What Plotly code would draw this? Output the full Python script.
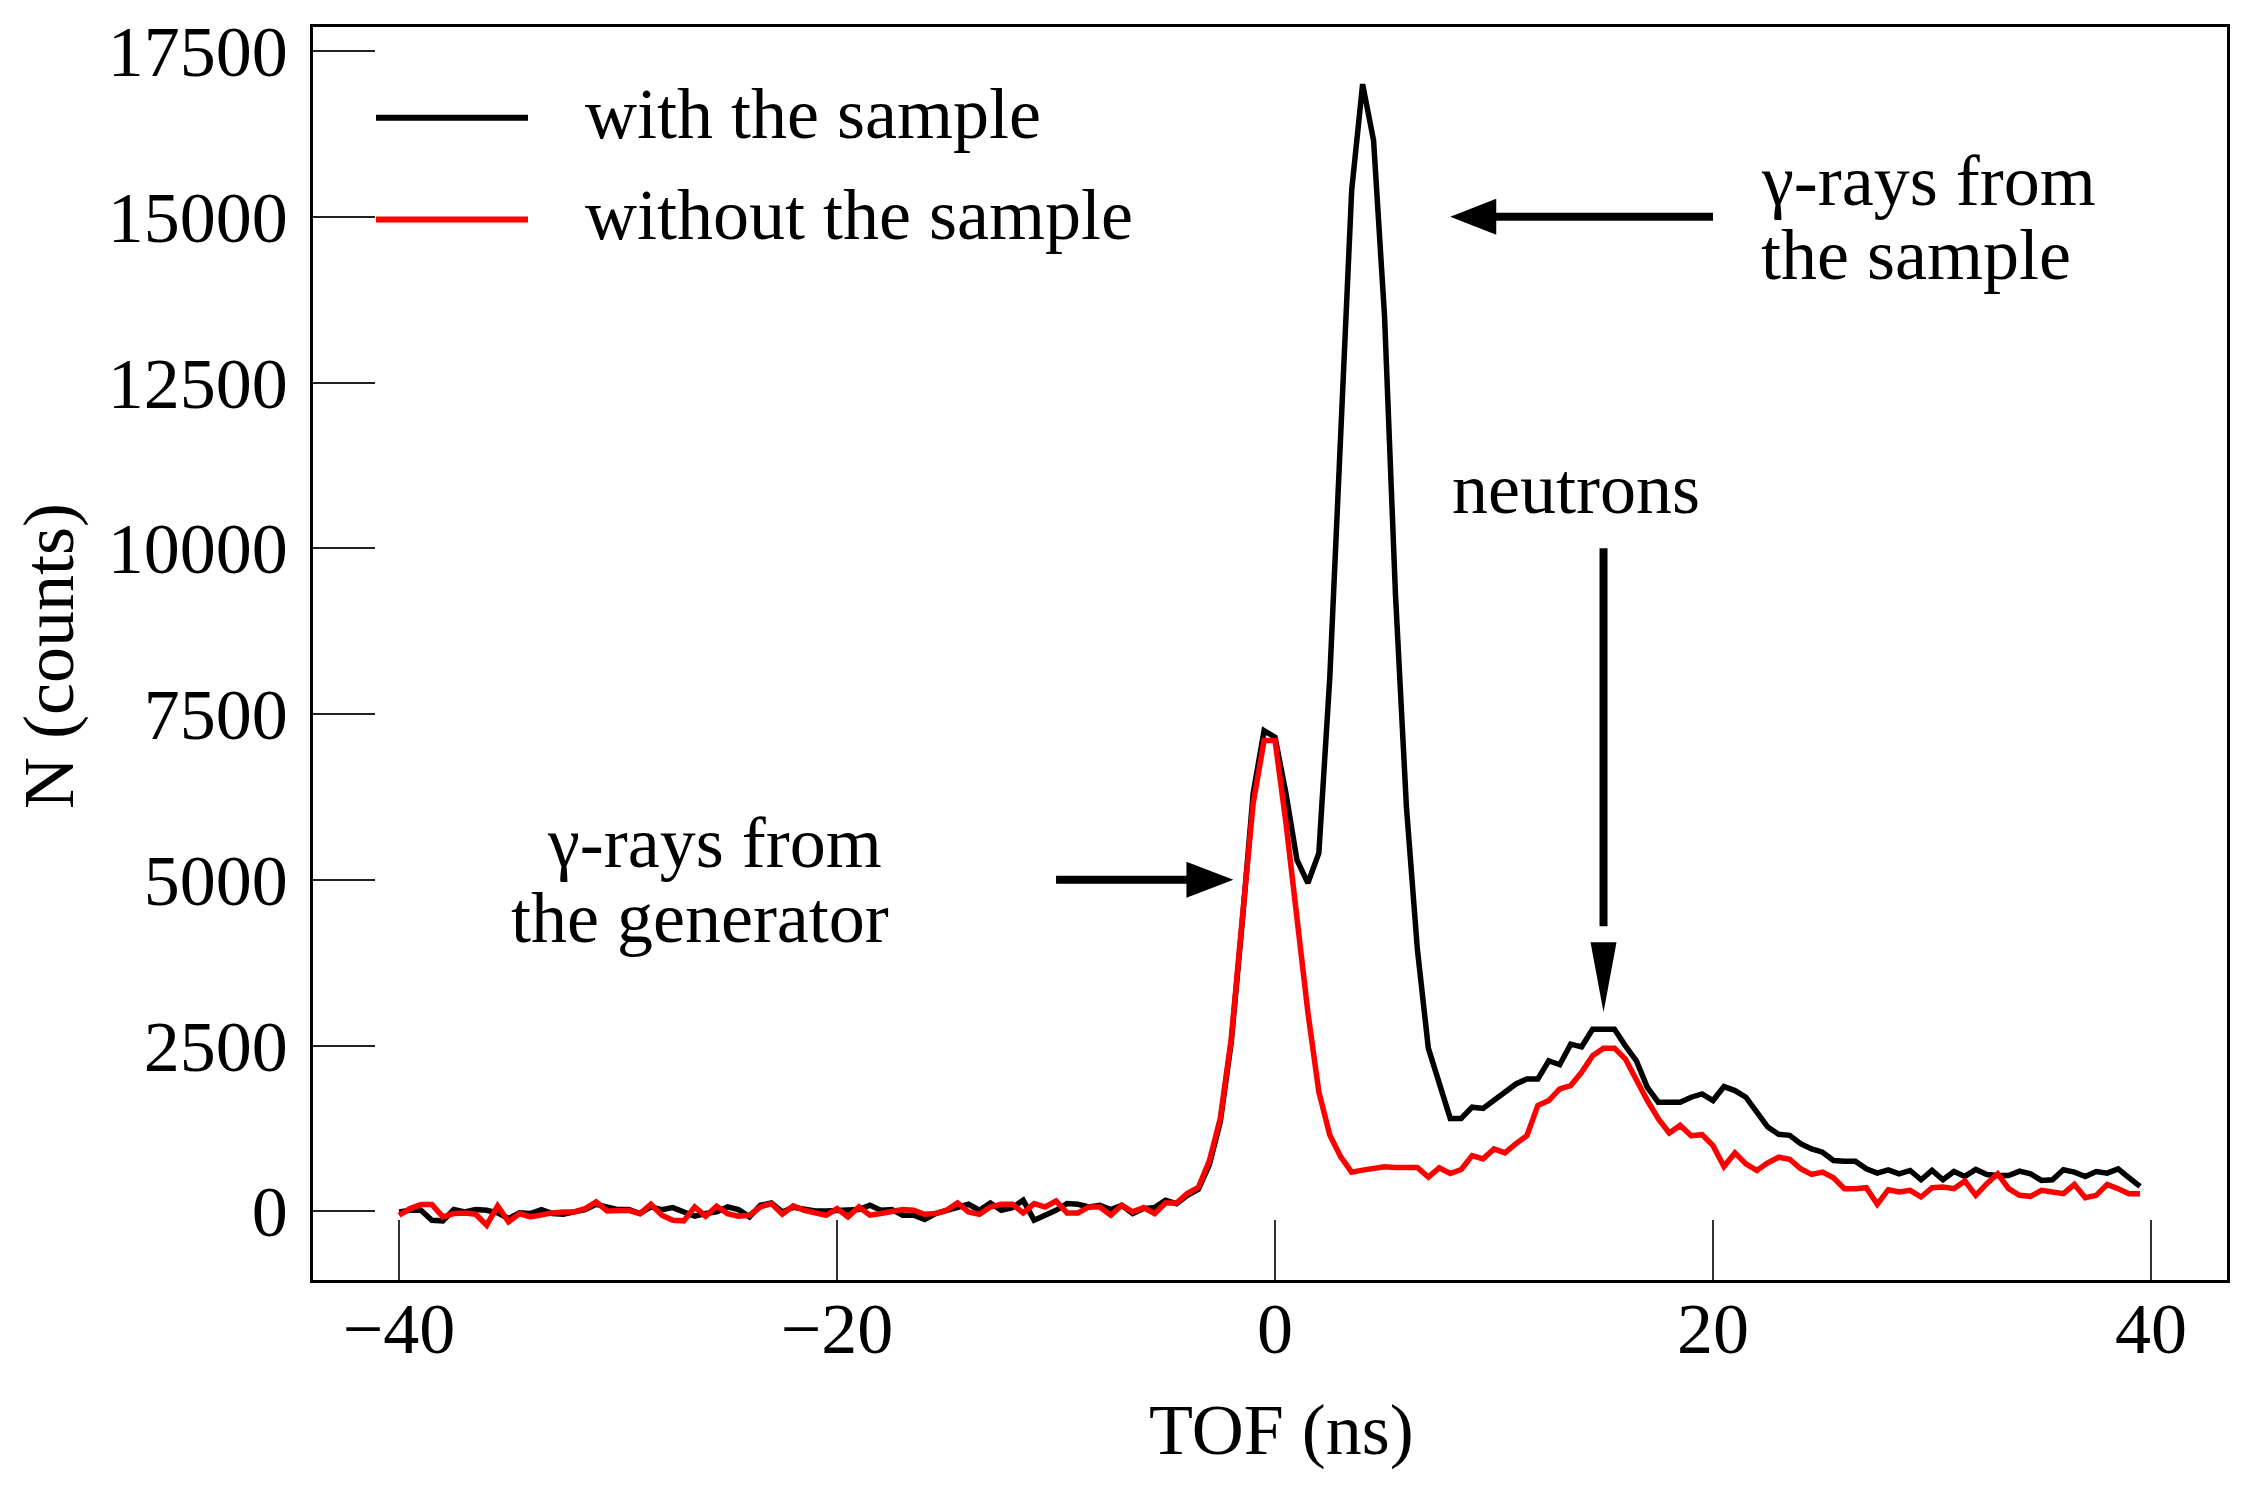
import plotly.graph_objects as go

# ---------------- data ----------------
tof_ns = [-40 + 0.5 * i for i in range(160)]   # bin centres, 0.5 ns bins

with_sample = [
    -10, 15, 15, -135, -145, 25, -10, 25, 15, -25,          # -40 .. -35.5
    -110, -25, -35, 25, -35, -45, -10, 25, 105, 65,         # -35 .. -30.5
    25, 25, -35, 65, 25, 55, -10, -75, -35, -10,            # -30 .. -25.5
    65, 25, -85, 90, 125, -10, 60, 25, 5, 5,                # -25 .. -20.5
    15, 15, 25, 90, 15, 25, -60, -60, -125, -35,            # -20 .. -15.5
    15, 65, 105, 15, 125, 15, 55, 165, -135, -60,           # -15 .. -10.5
    15, 115, 105, 65, 90, 25, 90, -35, 40, 55,              # -10 .. -5.5
    165, 115, 240, 330, 700, 1350, 2550, 4350, 6300, 7250,  # -5 .. -0.5
    7150, 6300, 5300, 4950, 5400, 8050, 11900, 15400, 17000, 16150,  # 0 .. 4.5
    13500, 9300, 6100, 3950, 2460, 1920, 1400, 1400, 1570, 1550,     # 5 .. 9.5
    1670, 1795, 1920, 1995, 1995, 2270, 2210, 2520, 2480, 2745,      # 10 .. 14.5
    2745, 2745, 2495, 2270, 1870, 1645, 1645, 1645, 1720, 1770,      # 15 .. 19.5
    1670, 1880, 1820, 1720, 1495, 1270, 1160, 1145, 1020, 940,       # 20 .. 24.5
    890, 765, 755, 755, 640, 575, 625, 565, 615, 475,                # 25 .. 29.5
    615, 475, 600, 525, 630, 555, 540, 540, 605, 565,                # 30 .. 34.5
    465, 475, 625, 590, 525, 600, 575, 640, 505, 375,                # 35 .. 39.5
]

without_sample = [
    -60, 40, 100, 100, -85, -35, -25, -45, -210, 80,        # -40 .. -35.5
    -160, -35, -85, -45, -25, -10, -10, 40, 140, 5,         # -35 .. -30.5
    15, 15, -35, 105, -60, -135, -145, 65, -75, 75,         # -30 .. -25.5
    -35, -75, -60, 65, 115, -45, 80, 15, -25, -60,          # -25 .. -20.5
    40, -85, 65, -60, -35, -10, 25, 15, -45, -35,           # -20 .. -15.5
    15, 125, -10, -45, 65, 105, 105, -25, 115, 65,          # -15 .. -10.5
    155, -25, -25, 65, 65, -60, 90, -10, 55, -35,           # -10 .. -5.5
    125, 125, 270, 360, 760, 1400, 2600, 4400, 6150, 7100,  # -5 .. -0.5
    7100, 5850, 4400, 3000, 1800, 1150, 820, 590, 620, 640,  # 0 .. 4.5
    670, 660, 650, 660, 515, 655, 570, 630, 840, 790,        # 5 .. 9.5
    940, 880, 1020, 1140, 1595, 1670, 1845, 1895, 2095, 2345,  # 10 .. 14.5
    2460, 2460, 2295, 1970, 1670, 1395, 1180, 1295, 1140, 1155,  # 15 .. 19.5
    990, 675, 880, 715, 615, 730, 815, 785, 640, 555,        # 20 .. 24.5
    590, 505, 340, 340, 355, 105, 325, 290, 315, 215,        # 25 .. 29.5
    355, 365, 340, 455, 240, 415, 565, 340, 240, 225,        # 30 .. 34.5
    315, 290, 265, 405, 205, 240, 405, 340, 265, 265,        # 35 .. 39.5
]

x_ticks = [-40, -20, 0, 20, 40]
y_ticks = [0, 2500, 5000, 7500, 10000, 12500, 15000, 17500]
series_names = ["with the sample", "without the sample"]
series_colors = ["#000000", "#ff0000"]

FONT = "Liberation Serif"
FS = 72

fig = go.Figure()
fig.add_trace(go.Scatter(x=tof_ns, y=with_sample, mode="lines", name=series_names[0],
                         line=dict(color=series_colors[0], width=5.5), showlegend=False))
fig.add_trace(go.Scatter(x=tof_ns, y=without_sample, mode="lines", name=series_names[1],
                         line=dict(color=series_colors[1], width=5.5), showlegend=False))

W, H = 2250, 1500
L, R, T, B = 313, 23, 23, 220
pw, ph = W - L - R, H - T - B


def px(X):
    return (X - L) / pw


def py(Y):
    return (H - B - Y) / ph


shapes = []
annotations = []

# manual legend
for nm, col, Y in zip(series_names, series_colors, [114, 216]):
    shapes.append(dict(type="line", xref="paper", yref="paper", x0=px(376), x1=px(528),
                       y0=py(Y), y1=py(Y), line=dict(color=col, width=6)))
    annotations.append(dict(xref="paper", yref="paper", x=px(583), y=py(Y - 4), text=nm,
                            showarrow=False, xanchor="left", yanchor="middle",
                            font=dict(family=FONT, size=FS, color="black")))

# arrows (shaft + filled head)
def arrow(x0, y0, x1, y1, head_path, ax, ay):
    shapes.append(dict(type="line", xref="x", yref="y", x0=x0, y0=y0, x1=x1, y1=y1,
                       line=dict(color="black", width=8)))
    shapes.append(dict(type="path", xref="x", yref="y", xsizemode="pixel", ysizemode="pixel",
                       xanchor=ax, yanchor=ay, path=head_path, fillcolor="black",
                       line=dict(color="black", width=0)))

arrow(20, 15000, 9.5, 15000, "M 0 0 L 46 18 L 46 -18 Z", 8, 15000)
arrow(-10, 5000, -3.6, 5000, "M 0 0 L -47 18 L -47 -18 Z", -1.9, 5000)
arrow(15, 10000, 15, 4300, "M 0 0 L -13 70 L 13 70 Z", 15, 3000)

def label(x, y, text, xanchor):
    annotations.append(dict(xref="x", yref="y", x=x, y=y, text=text, showarrow=False,
                            xanchor=xanchor, yanchor="middle",
                            font=dict(family=FONT, size=FS, color="black")))

label(22.1, 15540, "γ-rays from", "left")
label(22.1, 14430, "the sample", "left")
label(13.74, 10900, "neutrons", "center")
label(-25.6, 5550, "γ-rays from", "center")
label(-26.26, 4420, "the generator", "center")

# axis titles
annotations.append(dict(xref="paper", yref="paper", x=px(1281), y=py(1430), text="TOF (ns)",
                        showarrow=False, xanchor="center", yanchor="middle",
                        font=dict(family=FONT, size=FS, color="black")))
annotations.append(dict(xref="paper", yref="paper", x=px(49), y=py(654), text="N (counts)",
                        showarrow=False, xanchor="center", yanchor="middle", textangle=-90,
                        font=dict(family=FONT, size=FS, color="black")))

fig.update_layout(
    width=W, height=H,
    margin=dict(l=L, r=R, t=T, b=B),
    paper_bgcolor="white", plot_bgcolor="white",
    shapes=shapes, annotations=annotations,
    font=dict(family=FONT, size=FS, color="black"),
    xaxis=dict(range=[-43.93, 43.47], tickvals=x_ticks, ticks="inside", ticklen=60,
               tickwidth=1.5, tickcolor="#333333", showgrid=False, zeroline=False,
               showline=True, mirror=True, linecolor="black", linewidth=2.5,
               ticklabelstandoff=-16,
               tickfont=dict(family=FONT, size=FS, color="black")),
    yaxis=dict(range=[-1037, 17862], tickvals=y_ticks, tickformat="d", ticks="inside",
               ticklen=62, tickwidth=2, tickcolor="#222222", showgrid=False, zeroline=False,
               showline=True, mirror=True, linecolor="black", linewidth=2.5,
               ticklabelstandoff=8,
               tickfont=dict(family=FONT, size=FS, color="black")),
)

fig.write_html("out.html")
